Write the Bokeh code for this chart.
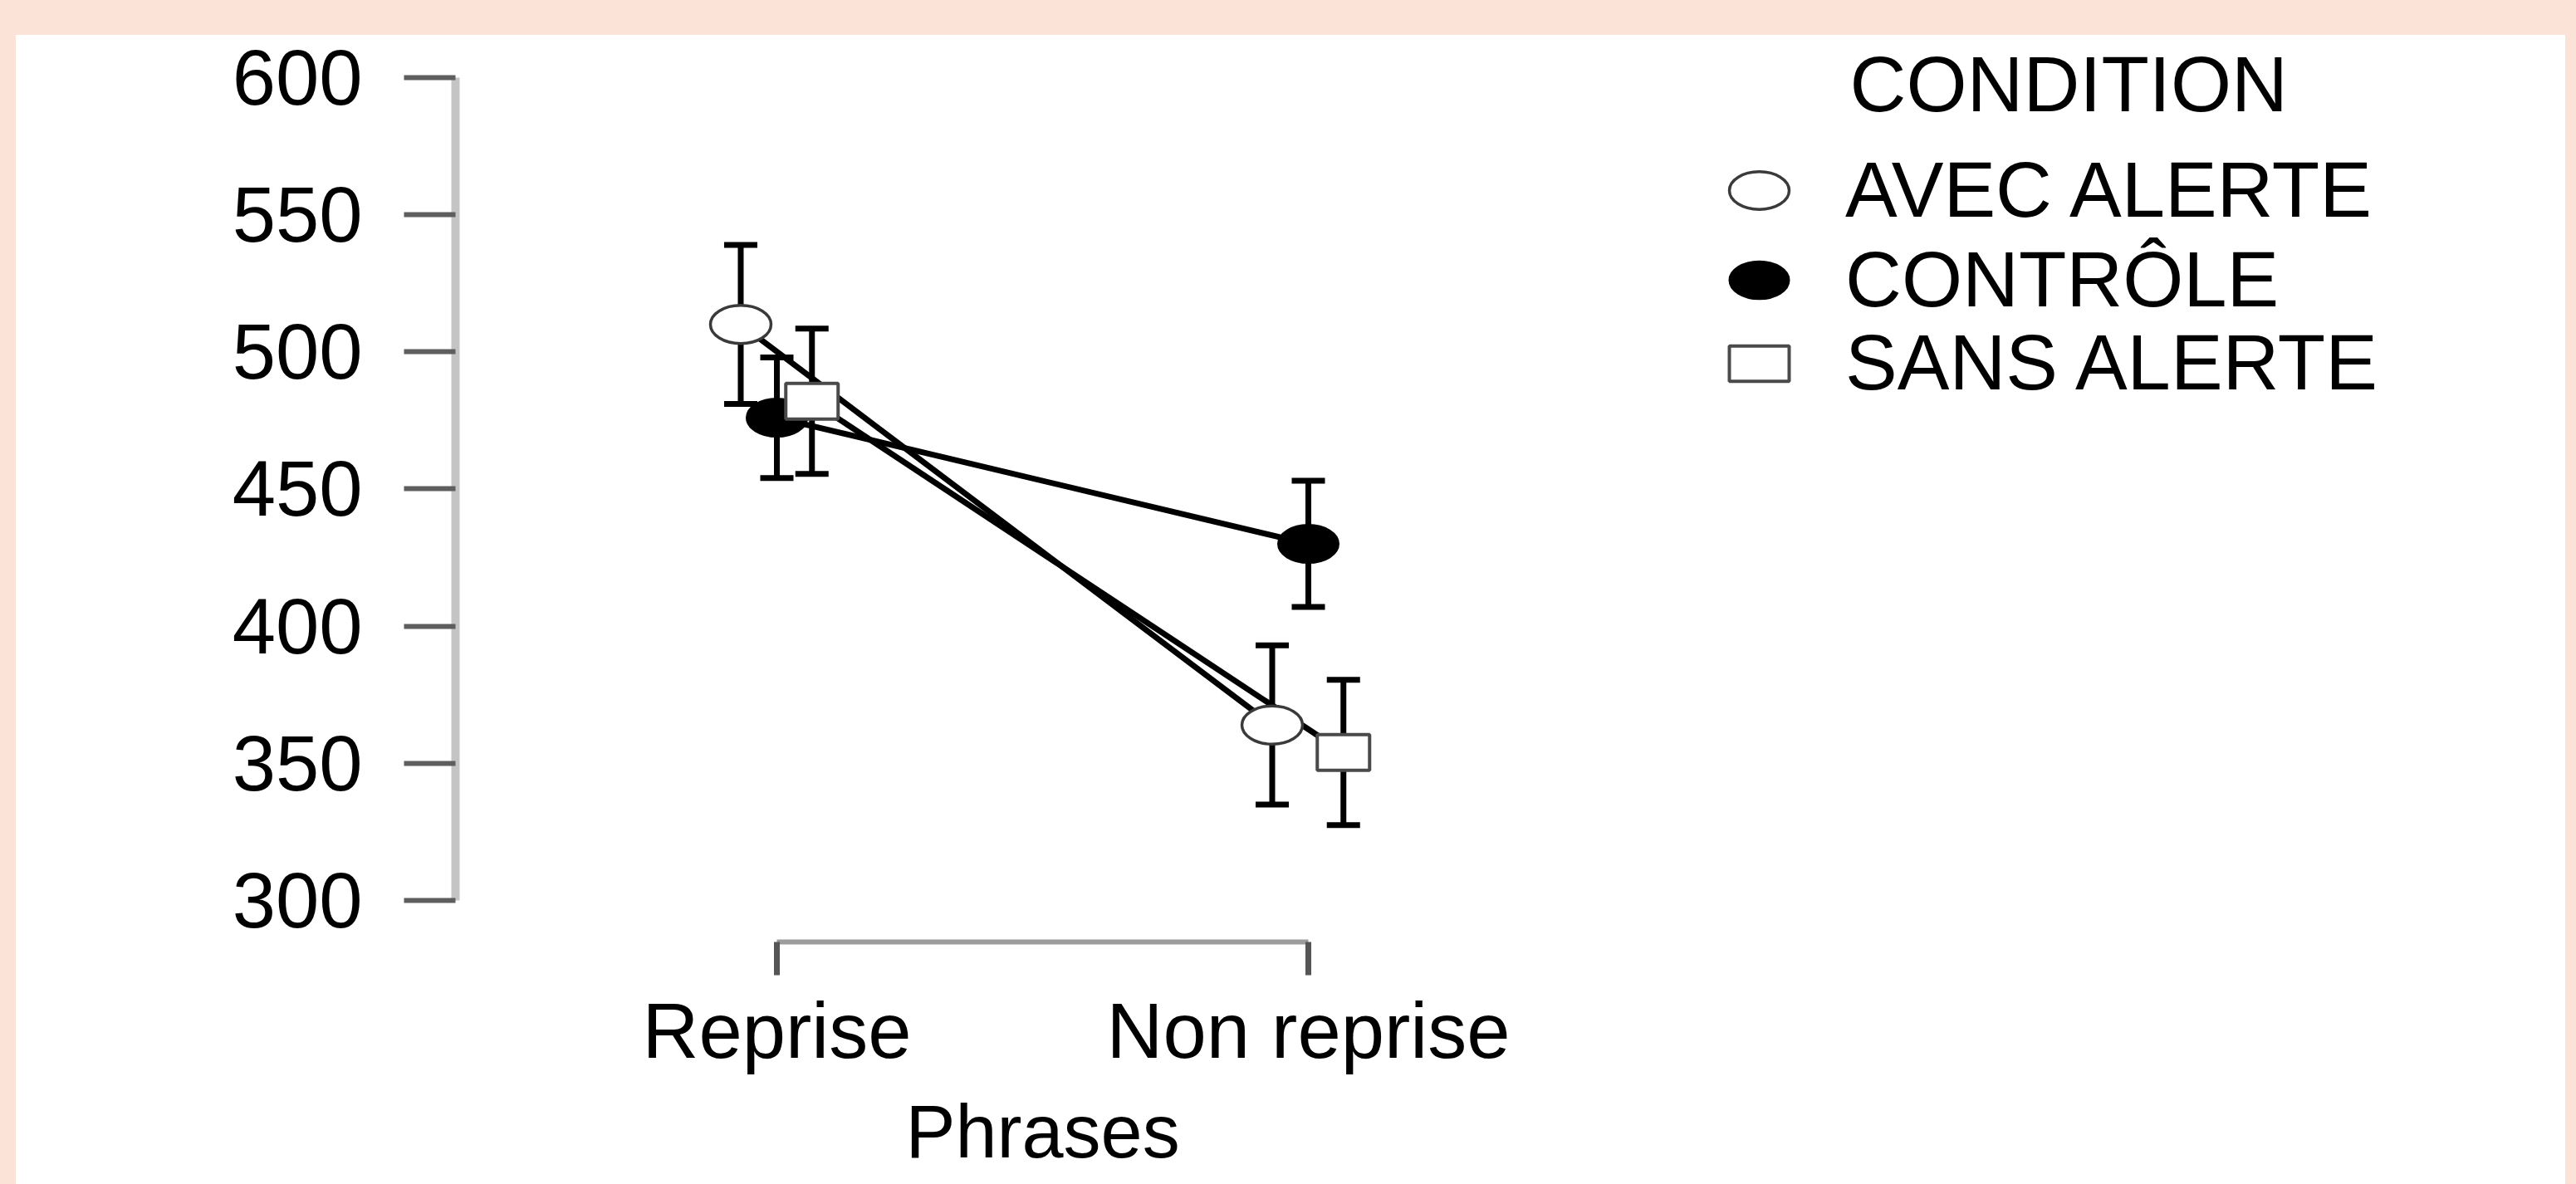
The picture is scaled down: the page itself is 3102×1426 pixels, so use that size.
from bokeh.plotting import figure
from bokeh.models import (ColumnDataSource, FixedTicker, Legend, LegendItem,
                          Whisker, TeeHead, Label, Div, Title)
from bokeh.layouts import column, row
from bokeh.embed import file_html
from bokeh.resources import INLINE

# ---------------- data ----------------
phrases = ["Reprise", "Non reprise"]
phrase_pos = [1, 2]
conditions = ["AVEC ALERTE", "CONTRÔLE", "SANS ALERTE"]
avec_mean = [510, 364]
avec_err = [29, 29]
controle_mean = [476, 430]
controle_err = [22, 23]
sans_mean = [482, 354]
sans_err = [26.5, 26.5]
y_ticks = [300, 350, 400, 450, 500, 550, 600]
x_title = "Phrases"
legend_title = "CONDITION"

# ---------------- style ----------------
PEACH = "#FBE4D7"
FONT = "Liberation Sans"
FS = "94px"
W, H = 3070, 1384

p = figure(width=W, height=H, output_backend="svg", toolbar_location=None,
           x_range=(0.3953, 4.3656), y_range=(284.91, 615.39),
           min_border_left=529, min_border_right=0,
           min_border_top=0, min_border_bottom=289,
           background_fill_color="white", border_fill_color="white",
           outline_line_color=None)
p.xgrid.visible = False
p.ygrid.visible = False

# y axis
ya = p.yaxis[0]
ya.ticker = FixedTicker(ticks=y_ticks)
ya.bounds = (y_ticks[0], y_ticks[-1])
ya.axis_line_color = "#c4c4c4"
ya.axis_line_width = 10
ya.major_tick_line_color = "#5e5e5e"
ya.major_tick_line_width = 6
ya.major_tick_in = 0
ya.major_tick_out = 62
ya.minor_tick_line_color = None
ya.major_label_standoff = 50
ya.major_label_text_font = FONT
ya.major_label_text_font_size = FS
ya.major_label_text_color = "black"

# x axis
xa = p.xaxis[0]
xa.ticker = FixedTicker(ticks=phrase_pos)
xa.major_label_overrides = {pos: lab for pos, lab in zip(phrase_pos, phrases)}
xa.bounds = (phrase_pos[0], phrase_pos[-1])
xa.axis_line_color = "#9c9c9c"
xa.axis_line_width = 6
xa.major_tick_line_color = "#555555"
xa.major_tick_line_width = 7
xa.major_tick_in = 0
xa.major_tick_out = 40
xa.minor_tick_line_color = None
xa.major_label_standoff = 14
xa.major_label_text_font = FONT
xa.major_label_text_font_size = FS
xa.major_label_text_color = "black"

# axis title, centred under the two categories
p.add_layout(Title(text=x_title, align="left", offset=542, standoff=28,
                   text_font=FONT, text_font_size="90px",
                   text_font_style="normal", text_color="black"), "below")

series = [
    (conditions[0], avec_mean, avec_err, -0.068, "ellipse", "white", "#3a3a3a", 3.5),
    (conditions[1], controle_mean, controle_err, 0.0, "ellipse", "black", "black", 2),
    (conditions[2], sans_mean, sans_err, 0.066, "rect", "white", "#4a4a4a", 4),
]

marker_specs = []
for name, means, errs, off, kind, fill, edge, lw in series:
    xs = [pos + off for pos in phrase_pos]
    src = ColumnDataSource(data=dict(
        x=xs, y=means,
        upper=[m + e for m, e in zip(means, errs)],
        lower=[m - e for m, e in zip(means, errs)],
    ))
    p.line("x", "y", source=src, line_color="black", line_width=7)
    wh = Whisker(base="x", upper="upper", lower="lower", source=src,
                 dimension="height", line_color="black", line_width=7,
                 upper_head=TeeHead(size=40, line_width=7, line_color="black"),
                 lower_head=TeeHead(size=40, line_width=7, line_color="black"))
    p.add_layout(wh)
    marker_specs.append((name, src, kind, fill, edge, lw))

renderers = {}
for name, src, kind, fill, edge, lw in marker_specs:
    if kind == "ellipse":
        r = p.ellipse("x", "y", source=src, width=73, height=46,
                      width_units="screen", height_units="screen",
                      fill_color=fill, line_color=edge, line_width=lw)
    else:
        r = p.rect("x", "y", source=src, width=63, height=43,
                   width_units="screen", height_units="screen",
                   fill_color=fill, line_color=edge, line_width=lw)
    renderers[name] = r

common = dict(orientation="vertical", glyph_width=90, label_standoff=59,
              padding=0, margin=0, label_text_font=FONT,
              label_text_font_size=FS, label_text_color="black",
              border_line_color=None, background_fill_alpha=0)

legend1 = Legend(items=[LegendItem(label=n, renderers=[renderers[n]])
                        for n in conditions[:2]],
                 location=(1525, 743), glyph_height=100, spacing=-5, **common)
legend2 = Legend(items=[LegendItem(label=conditions[2],
                                   renderers=[renderers[conditions[2]]])],
                 location=(1525, 643), glyph_height=53, spacing=0, **common)
p.add_layout(legend1)
p.add_layout(legend2)

p.add_layout(Label(x=1679, y=1033, x_units="screen", y_units="screen",
                   text=legend_title, text_font=FONT, text_font_size=FS,
                   text_color="black", text_align="left",
                   text_baseline="alphabetic"))

top = Div(text="", width=3102, height=42, margin=0,
          styles={"background-color": PEACH})
left = Div(text="", width=19, height=H, margin=0,
           styles={"background-color": PEACH})
right = Div(text="", width=13, height=H, margin=0,
            styles={"background-color": PEACH})
layout = column(top, row(left, p, right, spacing=0), spacing=0)

open("out.html", "w").write(file_html(layout, INLINE))
